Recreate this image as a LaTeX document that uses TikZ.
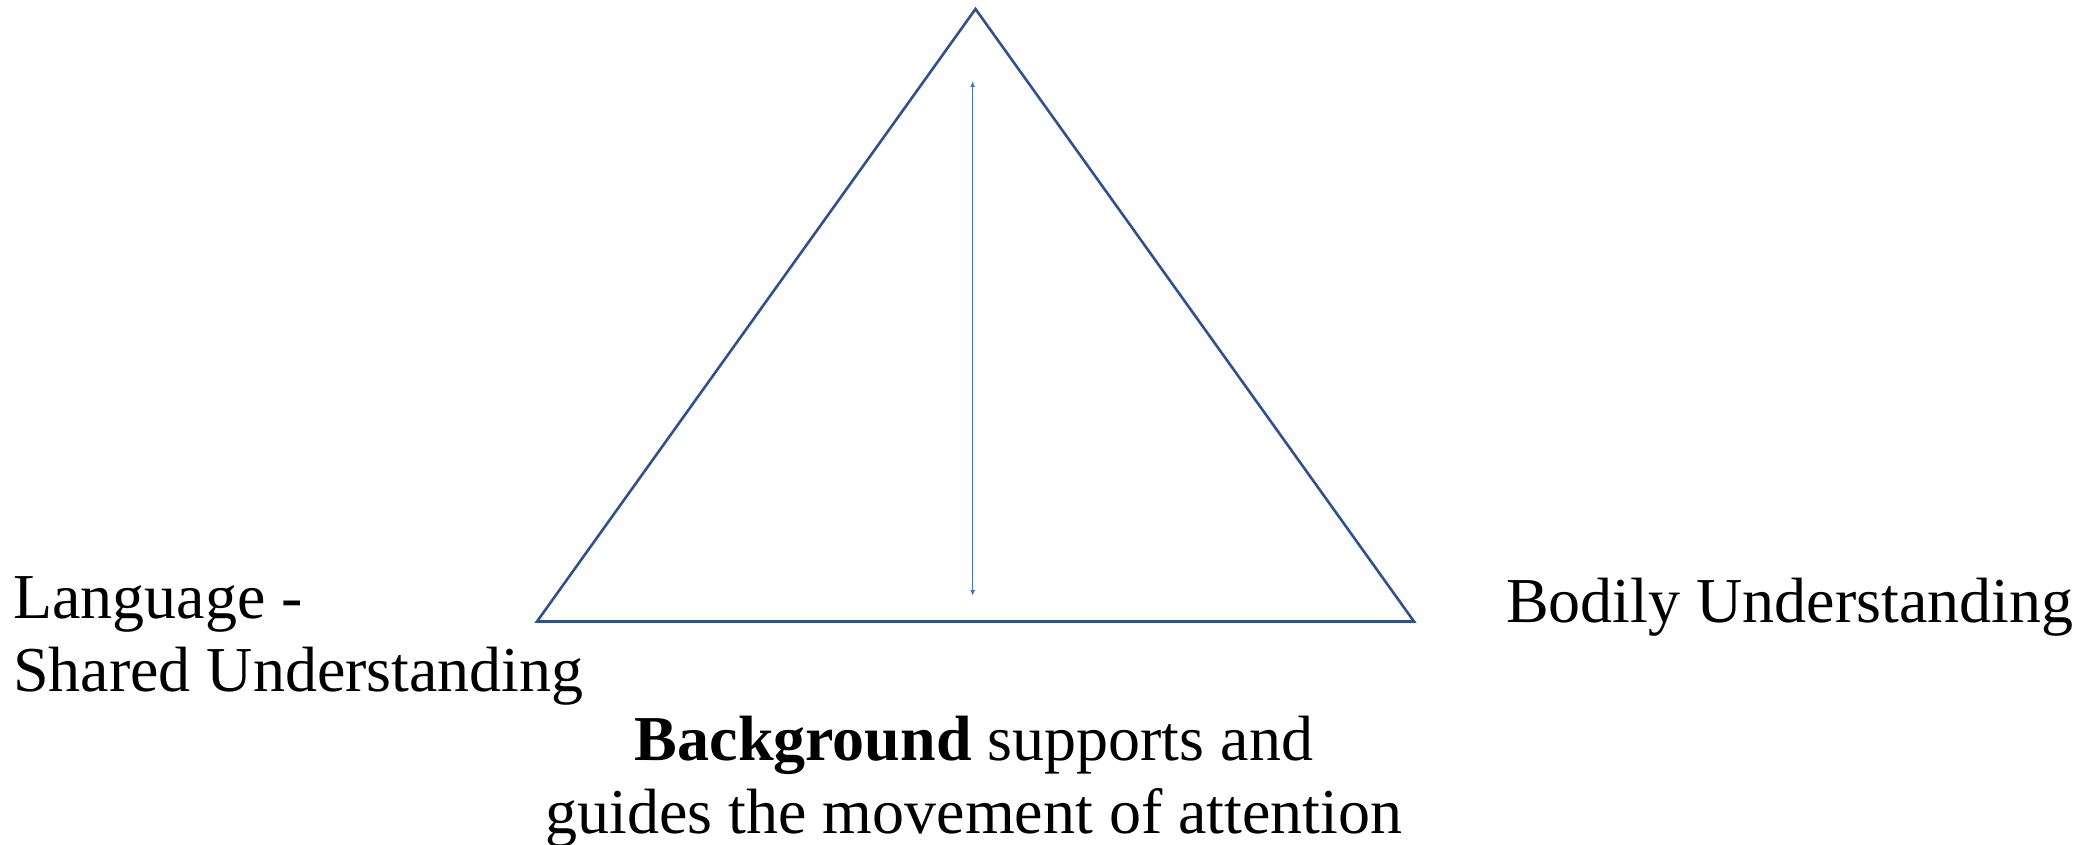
\documentclass[tikz,border=0pt]{standalone}
\usepackage{fontspec}
\setmainfont{Liberation Serif}
\usetikzlibrary{arrows.meta}
\definecolor{tricol}{HTML}{2F528F}
\definecolor{arrcol}{HTML}{4472C4}
\begin{document}
\begin{tikzpicture}[x=1pt,y=-1pt,
  tri/.style={draw=tricol,line width=2.6pt,line join=miter},
  arr/.style={draw=arrcol,line width=1.3pt,{Latex[length=6pt,width=5pt]}-{Latex[length=6pt,width=5pt]}},
  lbl/.style={inner sep=0pt,font=\fontsize{64}{73}\selectfont}]
\useasboundingbox (0,0) rectangle (2089,845);
\coordinate (apex) at (975.5,9);
\coordinate (bl) at (537,621.5);
\coordinate (br) at (1414,621.5);
\draw[tri] (apex) -- (br) -- (bl) -- cycle;
\coordinate (atop) at (972.7,81);
\coordinate (abot) at (972.7,596);
\draw[arr] (atop) -- (abot);
\node[lbl,anchor=base west,align=left] (lang) at (13,691) {Language -\\Shared Understanding};
\node[lbl,anchor=base west] (body) at (1506,622) {Bodily Understanding};
\node[lbl,anchor=base,align=center] (bg) at (974,833) {\textbf{Background} supports and\\guides the movement of attention};
\end{tikzpicture}
\end{document}
